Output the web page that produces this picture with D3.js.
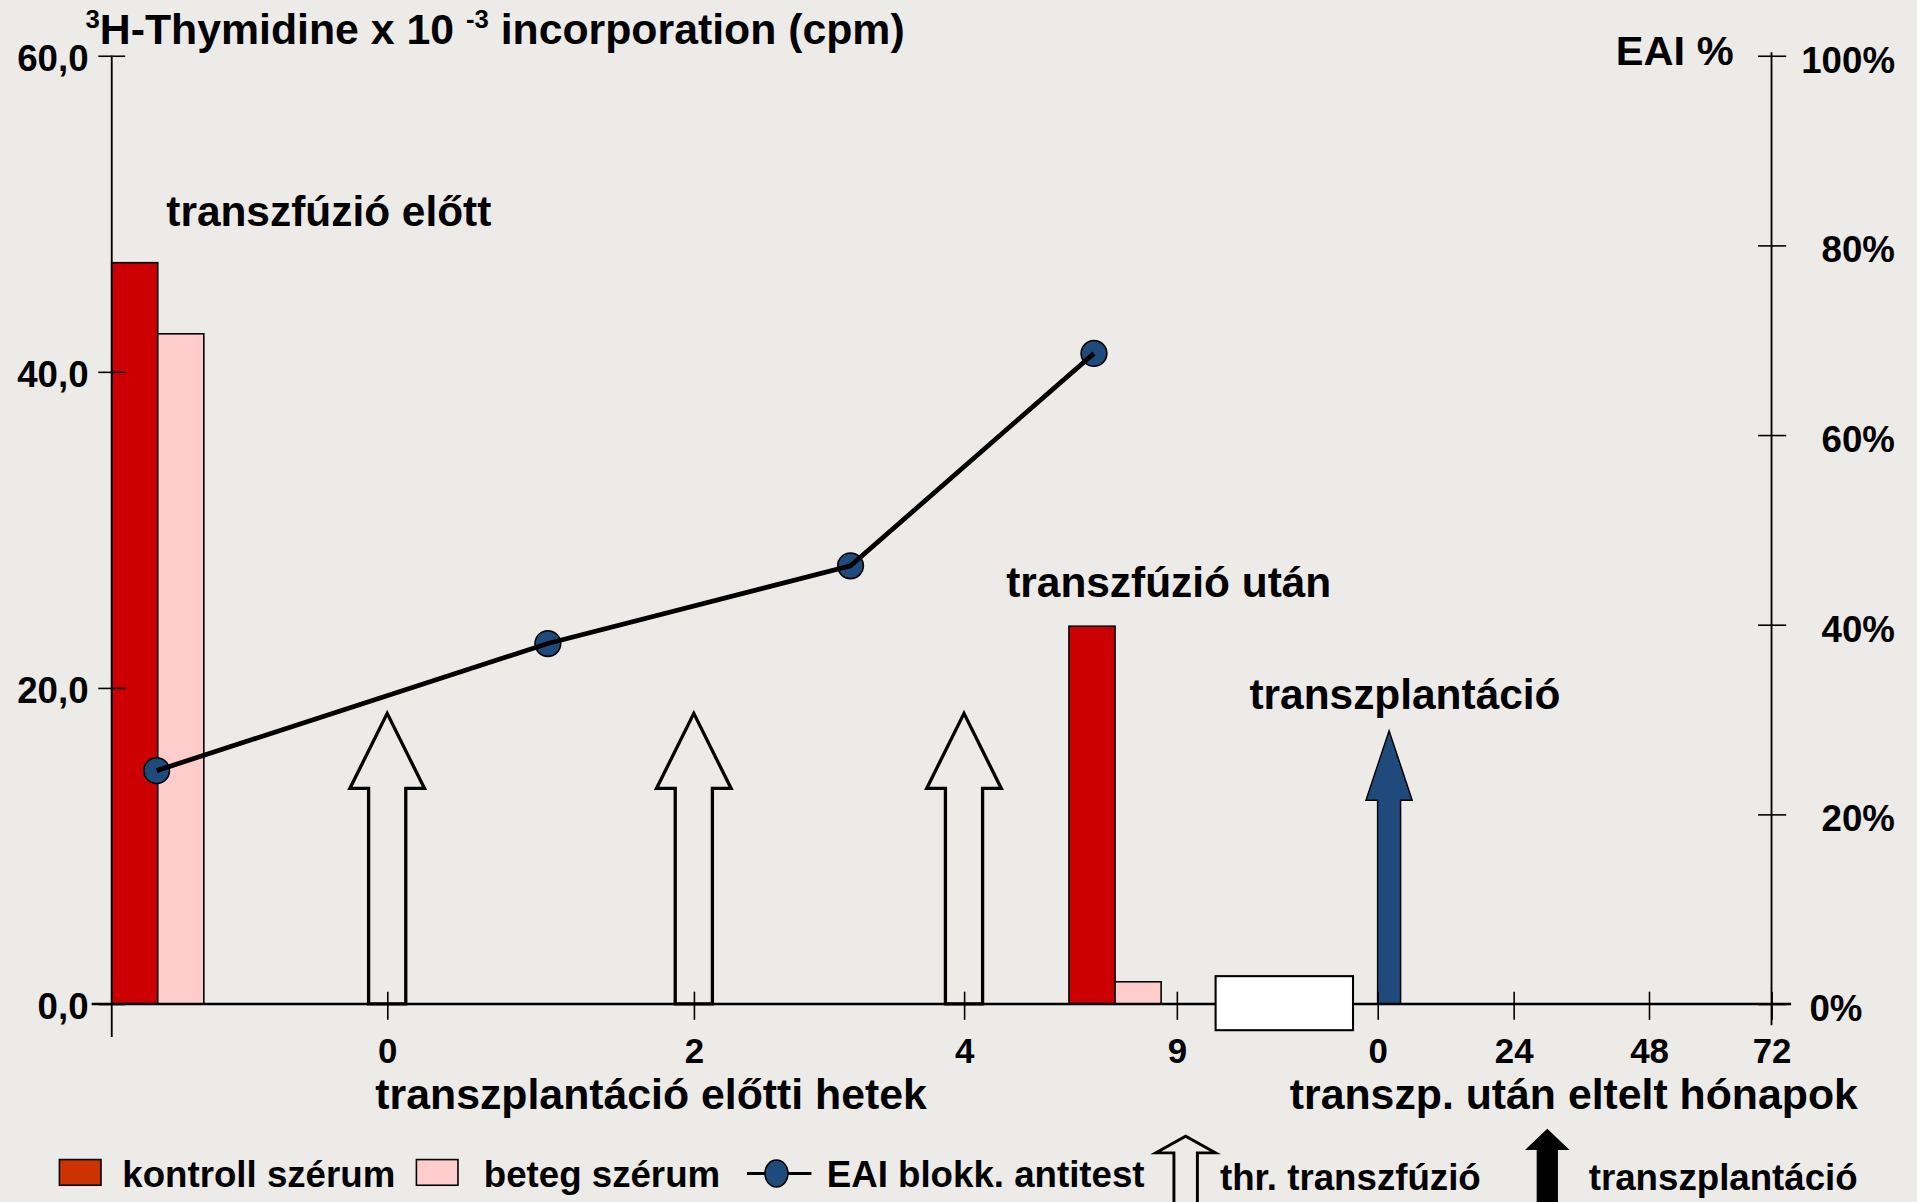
<!DOCTYPE html>
<html>
<head>
<meta charset="utf-8">
<script src="https://cdn.jsdelivr.net/npm/d3@7"></script>
<style>
  html, body { margin: 0; padding: 0; background: #ECEBE7; overflow: hidden; }
  svg { display: block; }
  text { font-family: "Liberation Sans", Arial, sans-serif; font-weight: bold; fill: #000; white-space: pre; }
</style>
</head>
<body>
<svg id="chart"></svg>
<script>
// ---------------- DATA ----------------
const groupLabels = ["transzfúzió előtt", "transzfúzió után"];
const groupSlot = [-0.833, 2.71];            // position on the x axis (axis slot units)
const kontrollSerum = [46.9, 23.9];          // 3H-Thymidine x10^-3 cpm
const betegSerum = [42.4, 1.4];
const eaiSlot = [-0.837, 0.524, 1.58, 2.611];
const eaiValues = [24.6, 38.0, 46.2, 68.6];  // EAI %
const leftTicks = [0, 20, 40, 60];
const leftTickLabels = ["0,0", "20,0", "40,0", "60,0"];
const rightTicks = [0, 20, 40, 60, 80, 100];
const xTickLabels = ["0", "2", "4", "9", "0", "24", "48", "72"];
const transfusionSlots = [0, 1, 2];
const transplantSlot = 4;
const legendLabels = ["kontroll szérum", "beteg szérum", "EAI blokk. antitest", "thr. transzfúzió", "transzplantáció"];

// ---------------- LAYOUT ----------------
const W = 1568, H = 983;
const svg = d3.select("#chart").attr("width", 1917).attr("height", 1202)
  .attr("viewBox", `0 0 ${W} ${H}`).attr("preserveAspectRatio", "none");
const BG = "#ECEBE7";
const RED = "#CC0000", PINK = "#FFCCCC", BLUE = "#1F4A7C", LEG_RED = "#CC3300";
svg.append("rect").attr("width", W).attr("height", H).attr("fill", BG);

const yBase = 821, yTop = 45.5;
const yLeft = d3.scaleLinear().domain([0, 60]).range([yBase, yTop]);
const yRight = d3.scaleLinear().domain([0, 100]).range([yBase, yTop]);
const x = d3.scaleLinear()
  .domain([-1, 0, 1, 2, 3, 4, 5, 6, 7])
  .range([91.4, 316.7, 567.5, 788.5, 962.5, 1126.8, 1238, 1348.7, 1449]);
const barW = 37.7;

// open (transfusion) arrows
function arrowPath(cx, yb, shaftHalf, headHalf, headBaseH, tipH) {
  return `M${cx - shaftHalf},${yb} L${cx - shaftHalf},${yb - headBaseH} L${cx - headHalf},${yb - headBaseH} ` +
         `L${cx},${yb - tipH} L${cx + headHalf},${yb - headBaseH} L${cx + shaftHalf},${yb - headBaseH} L${cx + shaftHalf},${yb} Z`;
}
svg.append("g").selectAll("path").data(transfusionSlots).join("path")
  .attr("d", d => arrowPath(x(d), yBase, 15.2, 30.5, 176.2, 237.6))
  .attr("fill", "none").attr("stroke", "#000").attr("stroke-width", 2.7).attr("stroke-linejoin", "miter");

// transplant arrow (blue)
svg.append("path")
  .attr("d", arrowPath(x(transplantSlot) + 9.4, yBase, 9.4, 18.9, 166.6, 223.3))
  .attr("fill", BLUE).attr("stroke", "#000").attr("stroke-width", 1.2);

// bars
const bars = svg.append("g").attr("stroke", "#000").attr("stroke-width", 1.3);
bars.selectAll("rect.k").data(kontrollSerum).join("rect").attr("class", "k")
  .attr("x", (d, i) => x(groupSlot[i]) - barW).attr("width", barW)
  .attr("y", d => yLeft(d)).attr("height", d => yBase - yLeft(d)).attr("fill", RED);
bars.selectAll("rect.b").data(betegSerum).join("rect").attr("class", "b")
  .attr("x", (d, i) => x(groupSlot[i])).attr("width", barW)
  .attr("y", d => yLeft(d)).attr("height", d => yBase - yLeft(d)).attr("fill", PINK);

// x axis
svg.append("line").attr("x1", 75).attr("x2", 1465).attr("y1", yBase).attr("y2", yBase)
  .attr("stroke", "#000").attr("stroke-width", 2);
const xAxis = d3.axisBottom(x).tickValues(d3.range(xTickLabels.length))
  .tickFormat(i => xTickLabels[i]).tickSizeOuter(0);
svg.append("g").attr("transform", `translate(0,${yBase})`).call(xAxis)
  .call(g => g.select(".domain").remove())
  .call(g => g.selectAll(".tick line").attr("y1", -10).attr("y2", 13).attr("stroke", "#000").attr("stroke-width", 1.3))
  .call(g => g.selectAll(".tick text").attr("y", 48).attr("dy", null)
      .attr("font-size", 28.5).attr("font-family", null).attr("fill", "#000"));

// axis break rectangle
svg.append("rect").attr("x", 994.3).attr("y", 798.3).attr("width", 112.4).attr("height", 44.2)
  .attr("fill", "#fff").attr("stroke", "#000").attr("stroke-width", 1.7);

// left axis
svg.append("line").attr("x1", 91.4).attr("x2", 91.4).attr("y1", yTop).attr("y2", 848)
  .attr("stroke", "#000").attr("stroke-width", 1.5);
const leftAxis = d3.axisLeft(yLeft).tickValues(leftTicks)
  .tickFormat((d, i) => leftTickLabels[i]).tickSizeInner(11).tickSizeOuter(0).tickPadding(8);
svg.append("g").attr("transform", "translate(91.4,0)").call(leftAxis)
  .call(g => g.select(".domain").remove())
  .call(g => g.selectAll(".tick line").attr("x1", 11).attr("x2", -11).attr("stroke", "#000").attr("stroke-width", 1.3))
  .call(g => g.selectAll(".tick text").attr("font-size", 30).attr("font-family", null)
      .attr("fill", "#000").attr("dy", "0.40em"));

// right axis
svg.append("line").attr("x1", 1449).attr("x2", 1449).attr("y1", 42.7).attr("y2", 838.5)
  .attr("stroke", "#000").attr("stroke-width", 1.5);
const rightAxis = d3.axisRight(yRight).tickValues(rightTicks)
  .tickFormat(d => d + "%").tickSizeInner(11).tickSizeOuter(0);
svg.append("g").attr("transform", "translate(1449,0)").call(rightAxis)
  .call(g => g.select(".domain").remove())
  .call(g => g.selectAll(".tick line").attr("x1", -11).attr("x2", 12).attr("stroke", "#000").attr("stroke-width", 1.3))
  .call(g => g.selectAll(".tick text").attr("font-size", 30).attr("font-family", null).attr("fill", "#000")
      .attr("dy", "0.45em")
      .attr("text-anchor", d => d === 0 ? "start" : "end")
      .attr("x", d => d === 0 ? 31 : 101));

// EAI line + points
const pts = eaiValues.map((v, i) => [x(eaiSlot[i]), yRight(v)]);
svg.append("g").selectAll("circle").data(pts).join("circle")
  .attr("cx", d => d[0]).attr("cy", d => d[1]).attr("r", 10.5)
  .attr("fill", BLUE).attr("stroke", "#000").attr("stroke-width", 1.3);
svg.append("path").attr("d", d3.line()(pts)).attr("fill", "none")
  .attr("stroke", "#000").attr("stroke-width", 3.9);

// titles
const title = svg.append("text").attr("x", 70).attr("y", 36).attr("font-size", 35);
title.append("tspan").attr("font-size", 21).attr("dy", -13).text("3");
title.append("tspan").attr("dy", 13).text("H-Thymidine x 10 ");
title.append("tspan").attr("font-size", 21).attr("dy", -13).text("-3");
title.append("tspan").attr("dy", 13).text(" incorporation (cpm)");

svg.append("text").attr("x", 1418).attr("y", 53).attr("text-anchor", "end").attr("font-size", 34).text("EAI %");

// group annotations
svg.append("text").attr("x", 136).attr("y", 185).attr("font-size", 34.7).text(groupLabels[0]);
svg.append("text").attr("x", 823).attr("y", 488).attr("font-size", 34.7).text(groupLabels[1]);
svg.append("text").attr("x", 1022).attr("y", 580).attr("font-size", 34.7).text("transzplantáció");

// axis titles
svg.append("text").attr("x", 307).attr("y", 907).attr("font-size", 35).text("transzplantáció előtti hetek");
svg.append("text").attr("x", 1055).attr("y", 907).attr("font-size", 35).text("transzp. után eltelt hónapok");

// legend
const leg = svg.append("g");
const legY = 971;
leg.append("rect").attr("x", 48.6).attr("y", 948.3).attr("width", 34).attr("height", 21)
  .attr("fill", LEG_RED).attr("stroke", "#000").attr("stroke-width", 1.3);
leg.append("text").attr("x", 100).attr("y", legY).attr("font-size", 30).text(legendLabels[0]);
leg.append("rect").attr("x", 340.6).attr("y", 948.3).attr("width", 34).attr("height", 21)
  .attr("fill", PINK).attr("stroke", "#000").attr("stroke-width", 1.3);
leg.append("text").attr("x", 395.7).attr("y", legY).attr("font-size", 30).text(legendLabels[1]);
leg.append("line").attr("x1", 611).attr("x2", 663.7).attr("y1", 959.7).attr("y2", 959.7)
  .attr("stroke", "#000").attr("stroke-width", 2.5);
leg.append("ellipse").attr("cx", 635.1).attr("cy", 959.7).attr("rx", 9.4).attr("ry", 11)
  .attr("fill", BLUE).attr("stroke", "#000").attr("stroke-width", 1.3);
leg.append("text").attr("x", 676.2).attr("y", legY).attr("font-size", 30).text(legendLabels[2]);
leg.append("path").attr("d", arrowPath(969.8, 992, 9.6, 24.3, 49.2, 62.8))
  .attr("fill", "none").attr("stroke", "#000").attr("stroke-width", 2.4);
leg.append("text").attr("x", 997.9).attr("y", legY + 2).attr("font-size", 30).text(legendLabels[3]);
leg.append("path").attr("d", arrowPath(1265.6, 992, 8.2, 17, 52, 68.3))
  .attr("fill", "#000").attr("stroke", "#000").attr("stroke-width", 1);
leg.append("text").attr("x", 1299.5).attr("y", legY + 2).attr("font-size", 30).text(legendLabels[4]);
</script>
</body>
</html>
